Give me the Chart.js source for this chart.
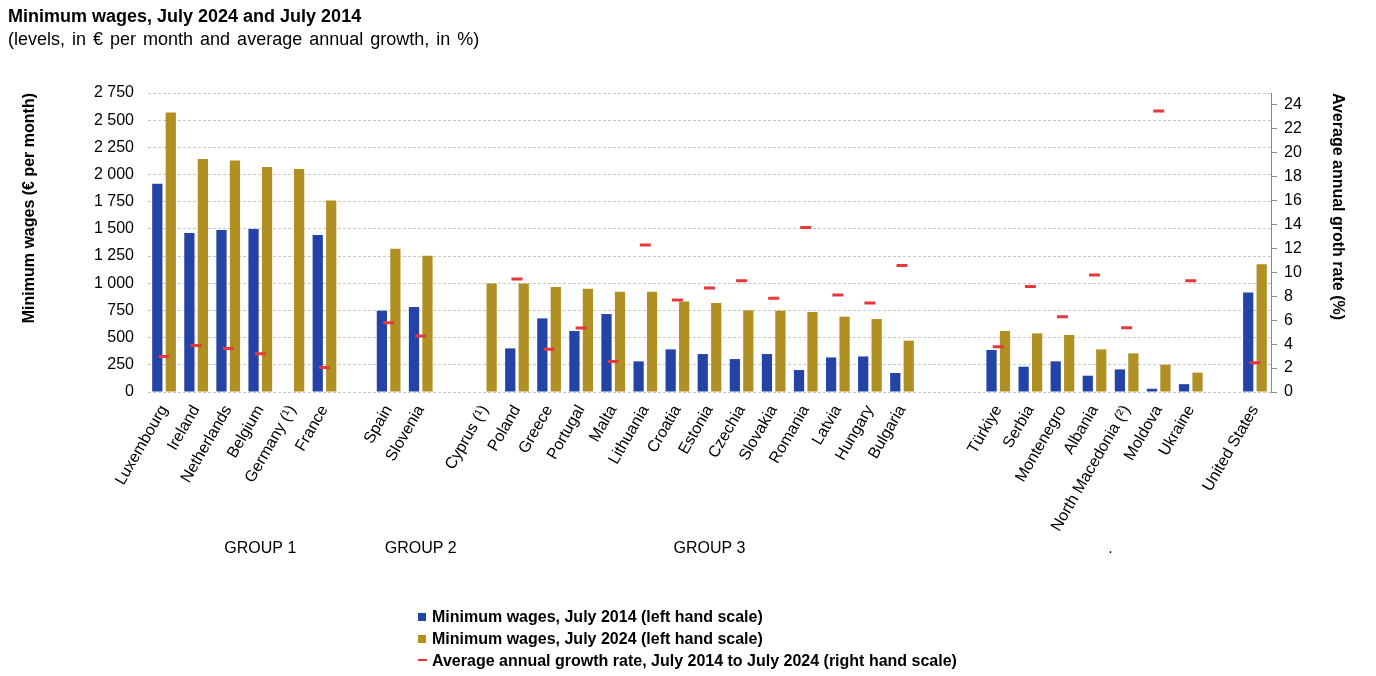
<!DOCTYPE html>
<html>
<head>
<meta charset="utf-8">
<script src="https://cdn.jsdelivr.net/npm/chart.js@4/dist/chart.umd.min.js"></script>
<style>
  body { margin: 0; background: #fff; font-family: "Liberation Sans", Arial, sans-serif; }
  #wrap { position: relative; width: 1376px; height: 676px; }
  #chart { position: absolute; left: 0; top: 0; }
  .title { position: absolute; left: 8px; top: 6px; font-size: 18px; font-weight: bold; }
  .subtitle { position: absolute; left: 8px; top: 29px; font-size: 18px; word-spacing: 2px; }
  #legend { position: absolute; left: 418px; top: 606px; font-size: 16px; font-weight: bold; }
  #legend div { height: 22px; line-height: 22px; }
  .sw { display: inline-block; width: 8px; height: 8px; margin-right: 6px; vertical-align: 1px; }
  .dash { display: inline-block; width: 9px; height: 2px; margin-right: 5px; vertical-align: 5px; }
</style>
</head>
<body>
<div id="wrap">
  <canvas id="chart" width="1376" height="676"></canvas>
  <div class="title">Minimum wages, July 2024 and July 2014</div>
  <div class="subtitle">(levels, in € per month and average annual growth, in %)</div>
  <div id="legend"></div>
</div>
<script>
const countries = ['Luxembourg', 'Ireland', 'Netherlands', 'Belgium', 'Germany (¹)', 'France', '',
  'Spain', 'Slovenia', '',
  'Cyprus (¹)', 'Poland', 'Greece', 'Portugal', 'Malta', 'Lithuania', 'Croatia', 'Estonia', 'Czechia',
  'Slovakia', 'Romania', 'Latvia', 'Hungary', 'Bulgaria', '', '',
  'Türkiye', 'Serbia', 'Montenegro', 'Albania', 'North Macedonia (²)', 'Moldova', 'Ukraine', '',
  'United States'];

const wages2014 = [1916, 1462, 1490, 1499, null, 1444, null,
  748, 782, null,
  null, 401, 677, 561, 717, 282, 392, 349, 303, 349, 202, 318, 327, 175, null, null,
  386, 233, 282, 150, 208, 30, 72, null,
  916];

const wages2024 = [2571, 2143, 2130, 2069, 2051, 1762, null,
  1318, 1254, null,
  999, 999, 966, 950, 922, 922, 833, 818, 751, 748, 736, 693, 671, 472, null, null,
  561, 539, 524, 392, 355, 251, 178, null,
  1174];

const growthRate = [2.97, 3.88, 3.63, 3.2, null, 2.05, null,
  5.78, 4.69, null,
  null, 9.44, 3.58, 5.36, 2.55, 12.3, 7.69, 8.69, 9.3, 7.83, 13.75, 8.1, 7.44, 10.58, null, null,
  3.78, 8.83, 6.3, 9.78, 5.38, 23.5, 9.3, null,
  2.44];

const leftTicks = [0, 250, 500, 750, 1000, 1250, 1500, 1750, 2000, 2250, 2500, 2750];
const rightTicks = [0, 2, 4, 6, 8, 10, 12, 14, 16, 18, 20, 22, 24];

const groupLabels = ['GROUP 1', 'GROUP 2', 'GROUP 3', '.'];
const groupAt = [3, 8, 17, 29.5];

const seriesNames = [
  'Minimum wages, July 2014 (left hand scale)',
  'Minimum wages, July 2024 (left hand scale)',
  'Average annual growth rate, July 2014 to July 2024 (right hand scale)'
];

const blue = '#2443a6';
const gold = '#b09022';
const red = '#e5383b';
const font = '"Liberation Sans", Arial, sans-serif';

Chart.defaults.font.family = font;
Chart.defaults.color = '#000';

function spaced(v) {
  return String(v).replace(/\B(?=(\d{3})+(?!\d))/g, ' ');
}

// group names under the country labels
const groupPlugin = {
  id: 'groups',
  afterDraw(chart) {
    const ctx = chart.ctx;
    const x = chart.scales.x;
    ctx.save();
    ctx.font = '16px ' + font;
    ctx.fillStyle = '#000';
    ctx.textAlign = 'center';
    ctx.textBaseline = 'middle';
    groupLabels.forEach((g, i) => {
      ctx.fillText(g, x.getPixelForValue(groupAt[i]), chart.chartArea.bottom + 157);
    });
    ctx.restore();
  }
};

new Chart(document.getElementById('chart'), {
  data: {
    labels: countries,
    datasets: [
      {
        type: 'line',
        label: seriesNames[2],
        data: growthRate,
        yAxisID: 'y1',
        showLine: false,
        pointStyle: 'line',
        pointRadius: 5.5,
        pointBorderWidth: 3,
        pointBorderColor: red,
        pointBackgroundColor: red,
        order: 0
      },
      {
        type: 'bar',
        label: seriesNames[0],
        data: wages2014,
        yAxisID: 'y',
        backgroundColor: blue,
        categoryPercentage: 0.84,
        barPercentage: 0.76,
        order: 1
      },
      {
        type: 'bar',
        label: seriesNames[1],
        data: wages2024,
        yAxisID: 'y',
        backgroundColor: gold,
        categoryPercentage: 0.84,
        barPercentage: 0.76,
        order: 1
      }
    ]
  },
  options: {
    responsive: false,
    animation: false,
    devicePixelRatio: 1,
    layout: { padding: { top: 93, left: 0, right: 0, bottom: 0 } },
    plugins: {
      legend: { display: false },
      tooltip: { enabled: false }
    },
    scales: {
      x: {
        grid: { display: false, drawTicks: false },
        border: { display: false },
        ticks: {
          autoSkip: false,
          minRotation: 60,
          maxRotation: 60,
          padding: 10,
          font: { size: 16 }
        },
        afterFit(s) { s.height = 284; }
      },
      y: {
        position: 'left',
        min: 0,
        max: 2750,
        grid: { color: '#c8c8c8', drawTicks: false },
        border: { display: false, dash: [3, 2] },
        ticks: {
          padding: 14,
          font: { size: 16 },
          callback: v => spaced(v)
        },
        afterBuildTicks(s) {
          s.ticks = leftTicks.map(v => ({ value: v }));
        },
        title: {
          display: true,
          text: 'Minimum wages (€ per month)',
          align: 'end',
          font: { size: 16, weight: 'bold' },
          padding: { top: 20, bottom: 0 }
        },
        afterFit(s) { s.width = 148; }
      },
      y1: {
        position: 'right',
        min: 0,
        max: 25,
        grid: { drawOnChartArea: false, color: '#888', tickLength: 6 },
        border: { display: true, color: '#888' },
        ticks: {
          padding: 7,
          font: { size: 16 }
        },
        afterBuildTicks(s) {
          s.ticks = rightTicks.map(v => ({ value: v }));
        },
        title: {
          display: true,
          text: 'Average annual groth rate (%)',
          align: 'end',
          font: { size: 16, weight: 'bold' },
          padding: { top: 29, bottom: 0 }
        },
        afterFit(s) { s.width = 105; }
      }
    }
  },
  plugins: [groupPlugin]
});

// legend as plain html, stacked like the original
const legend = document.getElementById('legend');
const marks = [
  '<span class="sw" style="background:' + blue + '"></span>',
  '<span class="sw" style="background:' + gold + '"></span>',
  '<span class="dash" style="background:' + red + '"></span>'
];
seriesNames.forEach((name, i) => {
  const row = document.createElement('div');
  row.innerHTML = marks[i] + name;
  legend.appendChild(row);
});
</script>
</body>
</html>
